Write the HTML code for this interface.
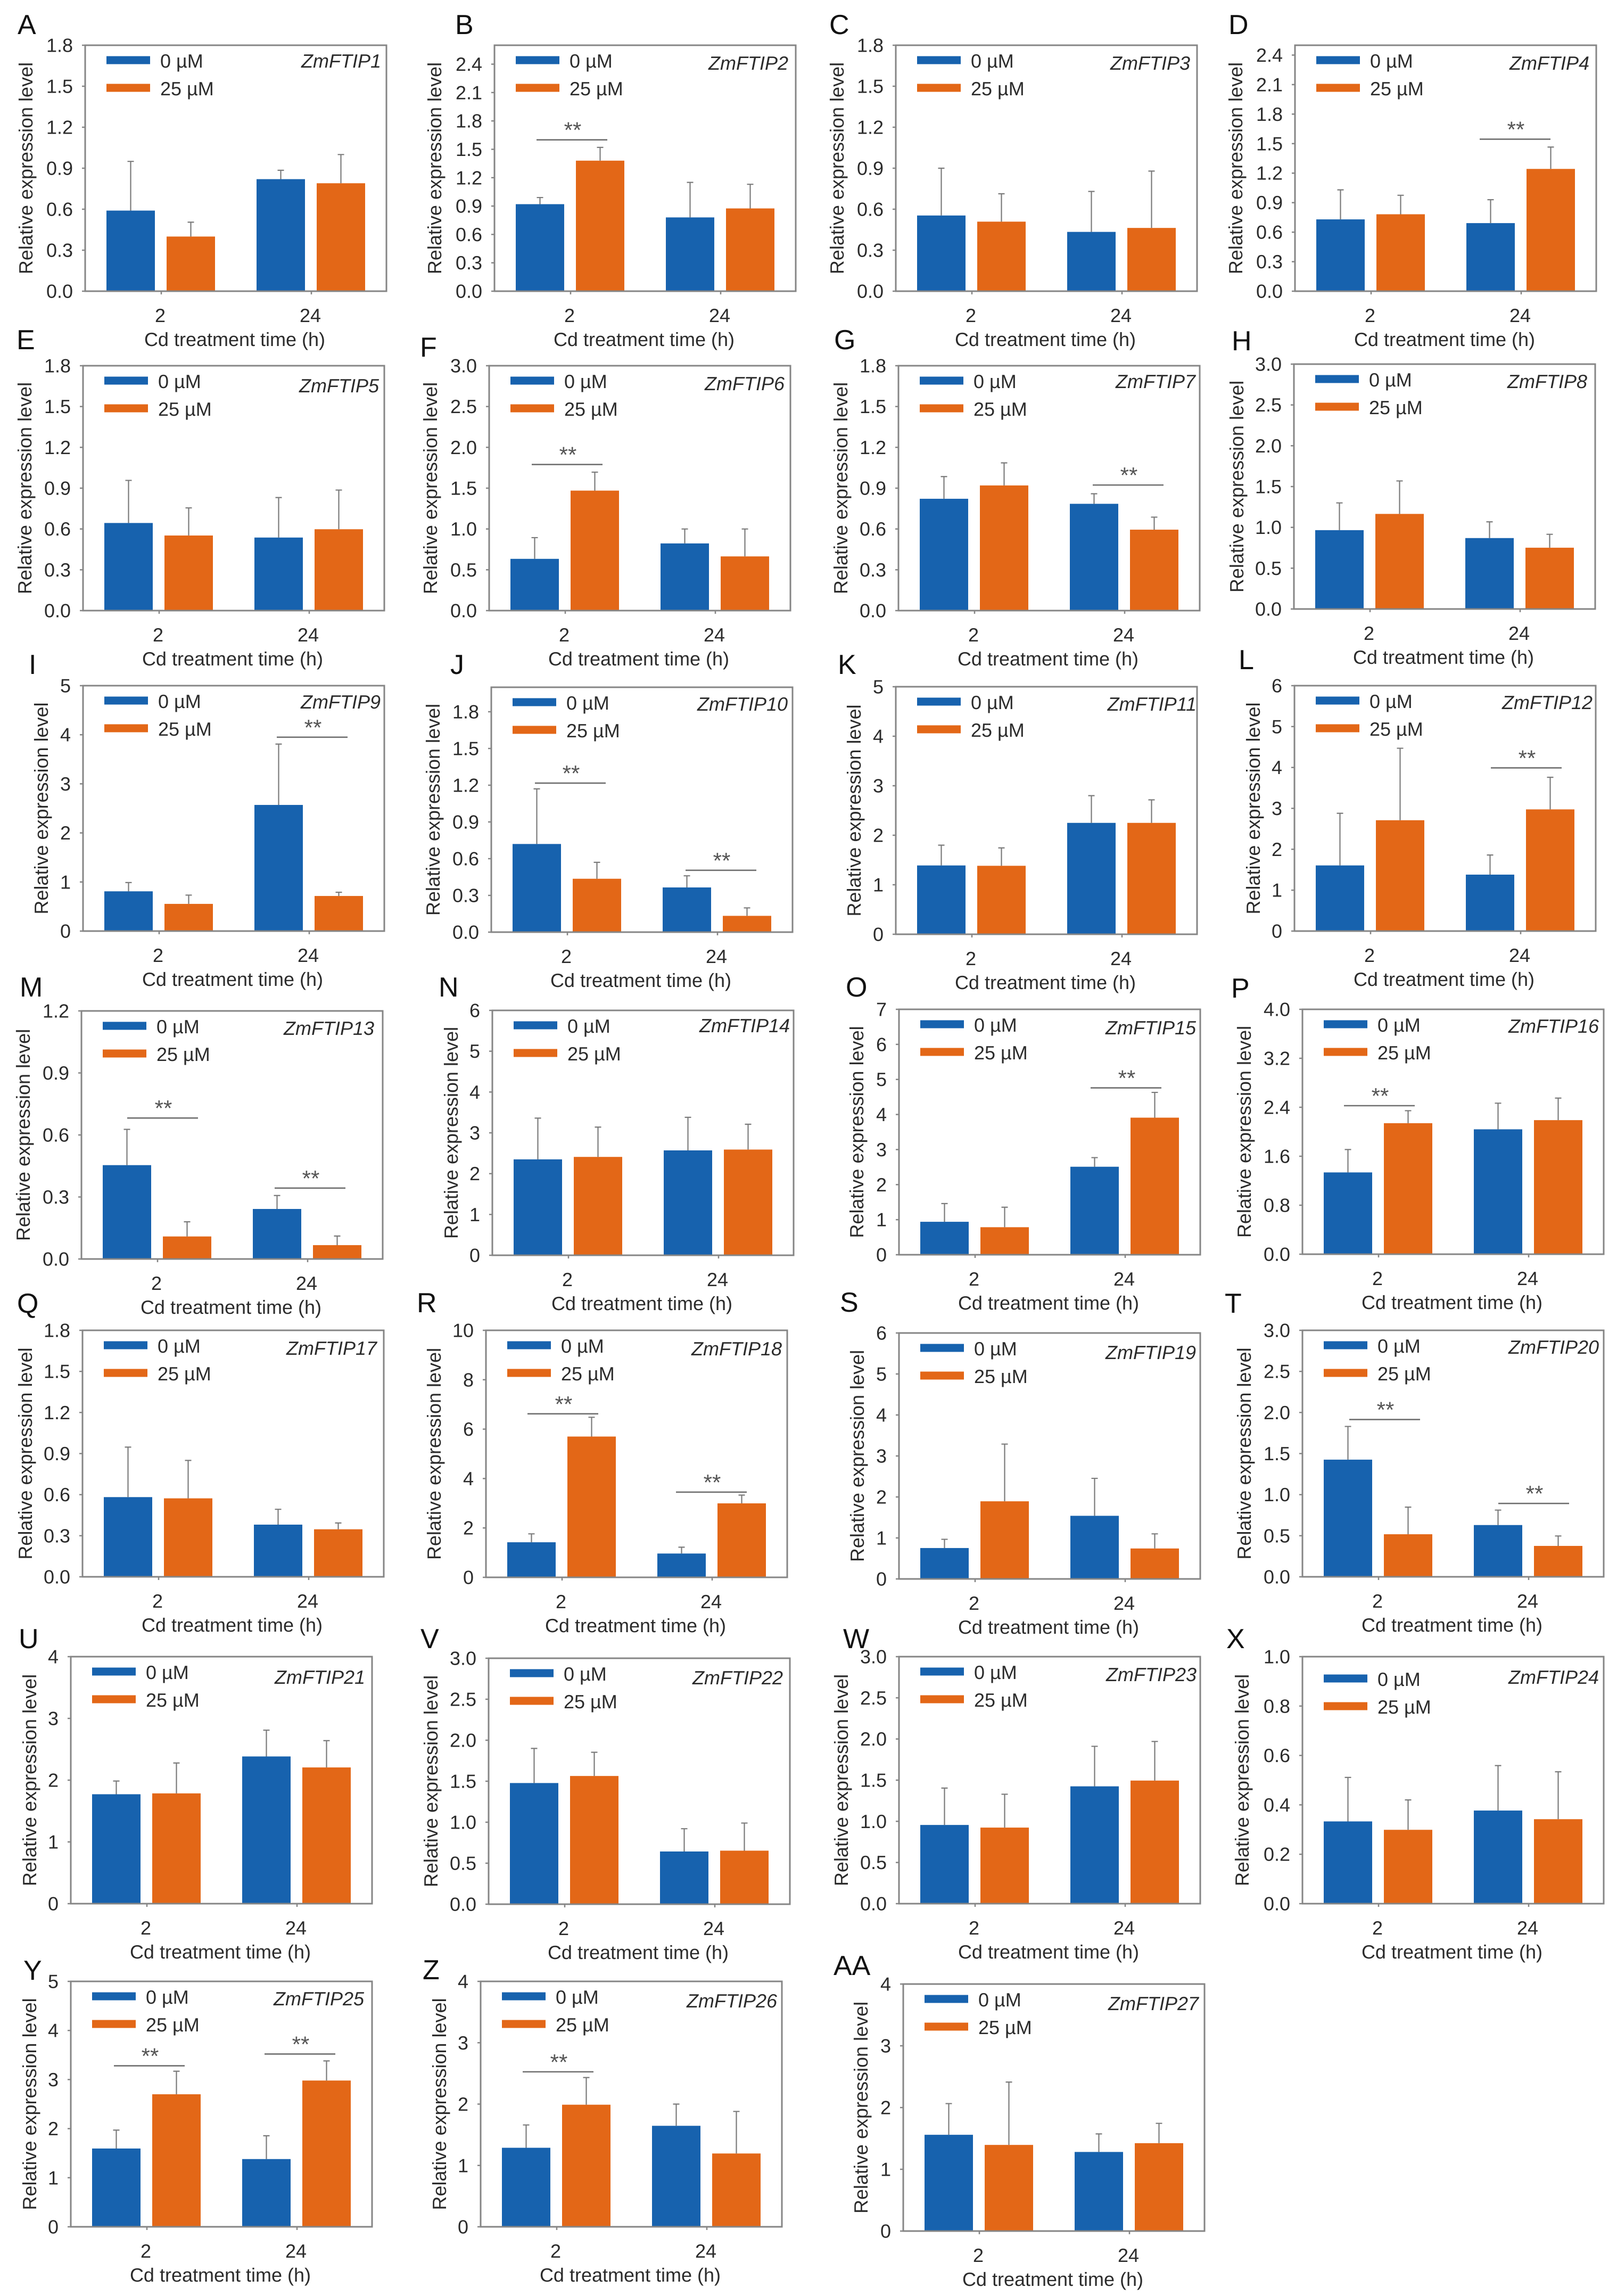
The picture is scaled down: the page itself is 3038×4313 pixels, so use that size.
<!DOCTYPE html>
<html lang="en">
<head>
<meta charset="utf-8">
<title>ZmFTIP relative expression under Cd treatment</title>
<style>
html,body{margin:0;padding:0;background:#fff;}
svg{display:block;font-family:"Liberation Sans",Arial,sans-serif;text-rendering:geometricPrecision;}
</style>
</head>
<body>
<svg id="figure" xmlns="http://www.w3.org/2000/svg" width="3038" height="4313" viewBox="0 0 3038 4313"></svg>
<script>
const panelLetters = ['A','B','C','D','E','F','G','H','I','J','K','L','M','N','O','P','Q','R','S','T','U','V','W','X','Y','Z','AA'];
const geneNames = ['ZmFTIP1','ZmFTIP2','ZmFTIP3','ZmFTIP4','ZmFTIP5','ZmFTIP6','ZmFTIP7','ZmFTIP8','ZmFTIP9','ZmFTIP10','ZmFTIP11','ZmFTIP12','ZmFTIP13','ZmFTIP14','ZmFTIP15','ZmFTIP16','ZmFTIP17','ZmFTIP18','ZmFTIP19','ZmFTIP20','ZmFTIP21','ZmFTIP22','ZmFTIP23','ZmFTIP24','ZmFTIP25','ZmFTIP26','ZmFTIP27'];
const categories = ['2','24'];
const seriesNames = ['0 µM','25 µM'];
const yAxisTitle = 'Relative expression level';
const xAxisTitle = 'Cd treatment time (h)';

const yMaxes = [1.8,2.6,1.8,2.5,1.8,3,1.8,3,5,2,5,6,1.2,6,7,4,1.8,10,6,3,4,3,3,1,5,4,4];

const ticks03to18 = ['0.0','0.3','0.6','0.9','1.2','1.5','1.8'];
const ticks03to24 = ['0.0','0.3','0.6','0.9','1.2','1.5','1.8','2.1','2.4'];
const ticks05to30 = ['0.0','0.5','1.0','1.5','2.0','2.5','3.0'];
const ticks0to4 = ['0','1','2','3','4'];
const ticks0to5 = ['0','1','2','3','4','5'];
const ticks0to6 = ['0','1','2','3','4','5','6'];
const tickLabels = [
  ticks03to18, ticks03to24, ticks03to18, ticks03to24,
  ticks03to18, ticks05to30, ticks03to18, ticks05to30,
  ticks0to5, ticks03to18, ticks0to5, ticks0to6,
  ['0.0','0.3','0.6','0.9','1.2'], ticks0to6, ['0','1','2','3','4','5','6','7'], ['0.0','0.8','1.6','2.4','3.2','4.0'],
  ticks03to18, ['0','2','4','6','8','10'], ticks0to6, ticks05to30,
  ticks0to4, ticks05to30, ticks05to30, ['0.0','0.2','0.4','0.6','0.8','1.0'],
  ticks0to5, ticks0to4, ticks0to4
];

// mean values: [2 h, 24 h]
const controlMeans = [
  [0.59,0.82],[0.92,0.78],[0.554,0.434],[0.73,0.692],
  [0.644,0.537],[0.634,0.823],[0.822,0.785],[0.966,0.869],
  [0.81,2.57],[0.72,0.365],[1.39,2.25],[1.605,1.38],
  [0.454,0.242],[2.35,2.57],[0.94,2.51],[1.336,2.04],
  [0.582,0.381],[1.42,0.964],[0.754,1.54],[1.426,0.63],
  [1.772,2.384],[1.478,0.643],[0.956,1.425],[0.333,0.377],
  [1.595,1.38],[1.288,1.646],[1.559,1.281]
];
const treatedMeans = [
  [0.40,0.79],[1.38,0.875],[0.509,0.463],[0.782,1.243],
  [0.552,0.598],[1.47,0.664],[0.92,0.595],[1.165,0.751],
  [0.554,0.715],[0.436,0.133],[1.383,2.25],[2.71,2.975],
  [0.109,0.067],[2.41,2.59],[0.785,3.91],[2.14,2.19],
  [0.573,0.347],[5.7,2.995],[1.894,0.743],[0.518,0.376],
  [1.786,2.206],[1.564,0.653],[0.924,1.495],[0.299,0.342],
  [2.70,2.98],[1.99,1.195],[1.395,1.423]
];
// top of the error whisker, in data units
const controlErrorTops = [
  [0.95,0.885],[0.99,1.15],[0.90,0.73],[1.03,0.93],
  [0.957,0.831],[0.894,1.0],[0.985,0.859],[1.30,1.068],
  [0.988,3.81],[1.17,0.46],[1.80,2.80],[2.88,1.86],
  [0.627,0.307],[3.36,3.38],[1.46,2.77],[1.71,2.467],
  [0.947,0.493],[1.76,1.22],[0.967,2.454],[1.83,0.812],
  [1.986,2.81],[1.90,0.921],[1.404,1.911],[0.511,0.559],
  [1.97,1.855],[1.66,2.0],[2.064,1.573]
];
const treatedErrorTops = [
  [0.505,1.0],[1.52,1.13],[0.713,0.879],[0.975,1.465],
  [0.755,0.886],[1.696,1.0],[1.086,0.687],[1.569,0.915],
  [0.733,0.79],[0.57,0.198],[1.745,2.715],[4.47,3.76],
  [0.18,0.111],[3.14,3.21],[1.355,4.63],[2.344,2.55],
  [0.85,0.393],[6.48,3.33],[3.29,1.10],[0.848,0.497],
  [2.278,2.64],[1.853,0.99],[1.329,1.97],[0.42,0.534],
  [3.17,3.38],[2.433,1.88],[2.413,1.744]
];
// significance markers: [panel index, category index, bracket level in data units]
const significance = [
  [1,0,1.60],[3,1,1.545],[5,0,1.79],[6,1,0.923],[8,1,3.95],[9,0,1.217],[9,1,0.505],[11,1,3.99],
  [12,0,0.682],[12,1,0.343],[14,1,4.76],[15,0,2.426],[17,0,6.62],[17,1,3.45],[19,0,1.914],[19,1,0.893],
  [24,0,3.28],[24,1,3.52],[25,0,2.526]
];

/* ---------- layout (separate from data) ---------- */
// left, top, bottom, y-title gap, gene right, gene baseline, letter x, letter baseline, legend shift
const panelLayout = [
  [160,85,547,99,556,42,33,64,0],[929,85,547,100,552,46,855,64,0],[1683,85,547,98,553,46,1558,64,0],[2433,85,547,99,553,46,2308,64,0],
  [156,687,1147,97,556,50,31,656,0],[919,687,1147,98,555,46,789,670,0],[1688,687,1147,96,558,42,1567,656,0],[2431,684,1144,95,551,45,2314,658,0],
  [156,1288,1749,66,559,43,54,1266,0],[923,1291,1751,97,557,44,846,1266,0],[1683,1290,1755,66,565,45,1574,1266,0],[2432,1288,1749,65,560,44,2327,1257,0],
  [153,1899,2365,97,550,45,37,1872,0],[925,1898,2358,65,559,41,824,1872,0],[1689,1896,2357,67,558,47,1589,1872,0],[2447,1896,2356,97,557,44,2313,1874,0],
  [155,2499,2962,95,553,46,32,2466,0],[913,2499,2963,85,556,47,783,2465,0],[1689,2504,2966,66,558,49,1578,2464,0],[2447,2499,2962,97,557,44,2301,2466,0],
  [133,3112,3576,65,553,51,35,3096,0],[918,3115,3577,96,553,49,790,3096,0],[1689,3112,3576,96,559,46,1584,3096,0],[2447,3112,3576,101,557,51,2304,3096,13],
  [133,3722,4183,65,551,45,44,3719,0],[903,3722,4183,65,557,49,794,3718,0],[1697,3727,4191,67,555,49,1566,3710,0]
];
// bracket start offset from the plot's left edge, parallel to significance
const bracketOffsets = [79,347,80,365,364,82,365,369,86,363,360,78,78,357,88,368,81,364,79];

const PLOT_W = 566, BAR_W = 91;
const CATEGORY_X = [143, 425];
const SERIES_DX = [-103, 10];
const COLORS = ['#1762AE', '#E36717'];
const AXIS = '#858585', INK = '#2b2b2b';
const NS = 'http://www.w3.org/2000/svg';
const fig = document.getElementById('figure');

function node(parent, tag, props, content) {
  const n = document.createElementNS(NS, tag);
  for (const k in props) n.setAttribute(k, props[k]);
  if (content !== undefined) n.textContent = content;
  parent.appendChild(n);
  return n;
}
function yScale(p, value) {
  const [, top, bottom] = panelLayout[p];
  return bottom - (value / yMaxes[p]) * (bottom - top);
}
function xCategory(p, c) {
  return panelLayout[p][0] + CATEGORY_X[c];
}
function xBar(p, c, s) {
  return xCategory(p, c) + SERIES_DX[s];
}

function drawPanel(p) {
  const [left, top, bottom, titleGap, geneRight, geneBase, letterX, letterBase, legendShift] = panelLayout[p];
  const g = node(fig, 'g', {});
  
  

  let el = node(g, 'text', {x: letterX, y: letterBase, 'font-size': 52, fill: '#111'}, panelLetters[p]);
  
  

  const seriesValues = [controlMeans[p], treatedMeans[p]];
  const seriesTops = [controlErrorTops[p], treatedErrorTops[p]];

  // bars
  seriesValues.forEach((vals, s) => {
    vals.forEach((v, c) => {
      const y = yScale(p, v);
      const bar = node(g, 'rect', {x: xBar(p, c, s), y: y, width: BAR_W, height: bottom - y, fill: COLORS[s]});
      
      
    });
  });

  // error bars
  seriesTops.forEach((vals, s) => {
    vals.forEach((v, c) => {
      const cx = xBar(p, c, s) + BAR_W / 2;
      const y0 = yScale(p, seriesValues[s][c]);
      const y1 = yScale(p, v);
      const eg = node(g, 'path', {d: 'M' + cx + ' ' + y0 + 'V' + y1 + 'M' + (cx - 6) + ' ' + y1 + 'H' + (cx + 6), stroke: '#7b7b7b', 'stroke-width': 2.2, fill: 'none'});
      
      
    });
  });

  // frame
  el = node(g, 'rect', {x: left, y: top, width: PLOT_W, height: bottom - top, fill: 'none', stroke: AXIS, 'stroke-width': 3});
  
  

  // y ticks
  tickLabels[p].forEach(label => {
    const y = yScale(p, parseFloat(label));
    const t = node(g, 'line', {x1: left - 6, x2: left, y1: y, y2: y, stroke: AXIS, 'stroke-width': 2.5});
    
    
    const tl = node(g, 'text', {x: left - 23, y: y + 12.5, 'font-size': 36, 'text-anchor': 'end', fill: INK}, label);
    
    
  });

  // x ticks
  categories.forEach((label, c) => {
    const x = xCategory(p, c);
    const t = node(g, 'line', {x1: x, x2: x, y1: bottom, y2: bottom + 6, stroke: AXIS, 'stroke-width': 2.5});
    
    
    const tl = node(g, 'text', {x: x - 2, y: bottom + 58, 'font-size': 36, 'text-anchor': 'middle', fill: INK}, label);
    
    
  });

  // axis titles
  const midY = (top + bottom) / 2;
  el = node(g, 'text', {x: left - titleGap, y: midY, 'font-size': 36, 'text-anchor': 'middle', fill: INK, transform: 'rotate(-90 ' + (left - titleGap) + ' ' + midY + ')'}, yAxisTitle);
  
  
  el = node(g, 'text', {x: left + 281, y: bottom + 103, 'font-size': 36, 'text-anchor': 'middle', fill: INK}, xAxisTitle);
  
  

  // legend
  seriesNames.forEach((name, s) => {
    const cy = top + 28 + s * 52 + legendShift;
    const sw = node(g, 'rect', {x: left + 40, y: cy - 7.5, width: 82, height: 15, fill: COLORS[s]});
    
    
    const lt = node(g, 'text', {x: left + 141, y: cy + 14, 'font-size': 36, fill: INK}, name);
    
    
  });

  // gene label
  el = node(g, 'text', {x: left + geneRight, y: top + geneBase, 'font-size': 36, 'font-style': 'italic', 'text-anchor': 'end', fill: INK}, geneNames[p]);
  
  
}

function drawSignificance(i) {
  const [p, , level] = significance[i];
  const left = panelLayout[p][0];
  const x0 = left + bracketOffsets[i];
  const y = yScale(p, level);
  let el = node(fig, 'line', {x1: x0, x2: x0 + 133, y1: y, y2: y, stroke: '#6f6f6f', 'stroke-width': 2.6});
  
  
  el = node(fig, 'text', {x: x0 + 68, y: y - 4, 'font-size': 42, 'text-anchor': 'middle', fill: '#555'}, '**');
  
  
}

panelLetters.forEach((_, p) => drawPanel(p));
significance.forEach((_, i) => drawSignificance(i));
</script>
</body>
</html>
